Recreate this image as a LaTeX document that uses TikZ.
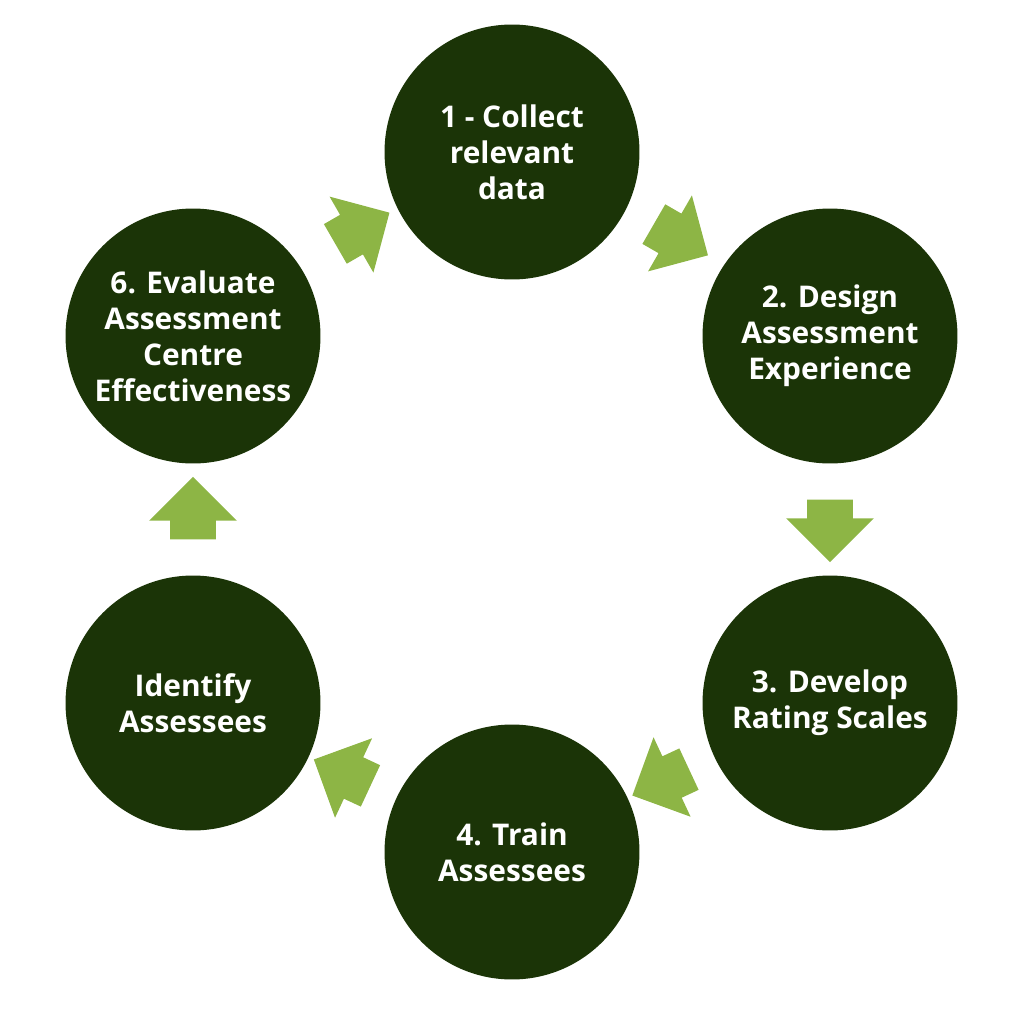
\documentclass[tikz,border=0pt]{standalone}
\usepackage{fontspec}
\setmainfont{Open Sans}
\usetikzlibrary{shapes.arrows,calc}
\definecolor{stepgreen}{HTML}{1B3407}
\definecolor{flowgreen}{HTML}{8DB545}
\tikzset{
  stage/.style={circle, fill=stepgreen, minimum size=5.1cm, inner sep=0pt,
    text=white, align=center, font=\fontsize{17}{20.5}\selectfont\bfseries},
  flow/.style={single arrow, fill=flowgreen, minimum height=1.25cm,
    inner xsep=0pt, inner ysep=0.45cm, single arrow head extend=0.42cm,
    single arrow tip angle=90}
}
\begin{document}
\begin{tikzpicture}[x=0.02cm,y=-0.02cm]
\useasboundingbox (0,0) rectangle (1024,1024);
            % Stages
            \node[stage] (s1) at (512,152) {1 - Collect\\relevant\\data};
            \node[stage] (s2) at (830,336) {2. Design\\Assessment\\Experience};
            \node[stage] (s3) at (830,703) {3. Develop\\Rating Scales};
            \node[stage] (s4) at (512,852) {4. Train\\Assessees};
            \node[stage] (s5) at (193,703) {Identify\\Assessees};
            \node[stage] (s6) at (193,336) {6. Evaluate\\Assessment\\Centre\\Effectiveness};

            % Flow
            \node[flow, rotate=-30] (f12) at ($(s1)!0.5!(s2)+(0,-10)$) {};
            \node[flow, rotate=-90] (f23) at ($(s2)!0.5!(s3)$) {};
            \node[flow, rotate=-155] (f34) at ($(s3)!0.5!(s4)$) {};
            \node[flow, rotate=155] (f45) at ($(s4)!0.5!(s5)$) {};
            \node[flow, rotate=90] (f56) at ($(s5)!0.5!(s6)$) {};
            \node[flow, rotate=30] (f61) at ($(s6)!0.5!(s1)+(0,-10)$) {};
\end{tikzpicture}
\end{document}
